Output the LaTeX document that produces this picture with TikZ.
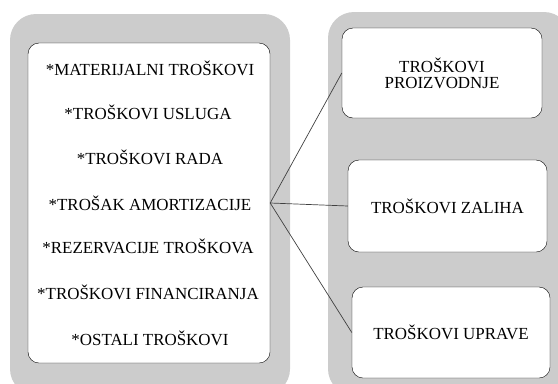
\documentclass[tikz,border=0pt]{standalone}
\usepackage{fontspec}
\setmainfont{Liberation Serif}
\usetikzlibrary{positioning}

\definecolor{panelgrey}{HTML}{CCCCCC}

\begin{document}
\begin{tikzpicture}[x=1bp,y=-1bp,thin,
  card/.style={rectangle,draw=black,fill=white,rounded corners=11bp,font=\fontsize{17}{19}\selectfont,align=center},
  item/.style={font=\fontsize{17}{19}\selectfont,inner sep=0pt},
  link/.style={draw=black!75,line width=0.7pt}]

  \useasboundingbox (0,0) rectangle (558,383);

  % grey backgrounds
  \fill[panelgrey,rounded corners=26bp] (10,14) rectangle (290,395);
  \fill[panelgrey,rounded corners=26bp] (328,12) rectangle (570,395);

  % list of cost types
  \node[card,minimum width=242bp,minimum height=320bp] (lista) at (149,203) {};
  \node[item] (mat) at (150,68) {*MATERIJALNI TROŠKOVI};
  \node[item] (usl) at (148,112) {*TROŠKOVI USLUGA};
  \node[item] (rad) at (150,157) {*TROŠKOVI RADA};
  \node[item] (amo) at (150,203) {*TROŠAK AMORTIZACIJE};
  \node[item] (rez) at (148,246) {*REZERVACIJE TROŠKOVA};
  \node[item] (fin) at (148,292) {*TROŠKOVI FINANCIRANJA};
  \node[item] (ost) at (150,338) {*OSTALI TROŠKOVI};

  % groups
  \node[card,minimum width=200bp,minimum height=90bp] (proiz) at (442,73) {TROŠKOVI\\[-3pt]PROIZVODNJE};
  \node[card,minimum width=199bp,minimum height=92bp] (zal) at (447.5,206) {TROŠKOVI ZALIHA};
  \node[card,minimum width=198bp,minimum height=91bp] (upr) at (451,332.5) {TROŠKOVI UPRAVE};

  \path[link]
    (lista.east) edge (proiz.west)
    (lista.east) edge (zal.west)
    (lista.east) edge (upr.west);
\end{tikzpicture}
\end{document}
